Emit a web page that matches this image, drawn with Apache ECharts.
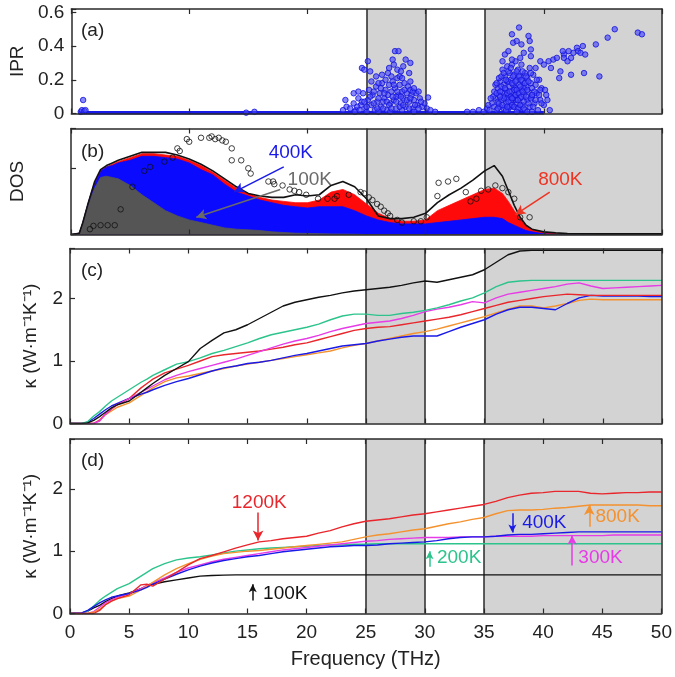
<!DOCTYPE html>
<html><head><meta charset="utf-8">
<script src="https://cdn.jsdelivr.net/npm/echarts@6/dist/echarts.min.js"></script>
<style>html,body{margin:0;padding:0;background:#fff}#c{width:675px;height:677px}</style>
</head><body><div id="c"></div>
<script>
const FONT = "'Liberation Sans', Arial, Helvetica, sans-serif";

// ---------- Panel (a): IPR ----------
const iprBaseX = [0.6, 40];
const iprBaseY = [0.004, 0.004];
const iprPoints = [
 [0.8,0.01],[0.9,0.02],[1.0,0.08],[1.1,0.015],[1.2,0.02],[14.8,0.005],[15.5,0.01],
 [23.0,0.02],[23.3,0.04],[23.6,0.03],[23.9,0.06],[24.1,0.02],[24.3,0.09],[24.5,0.05],[24.7,0.12],[24.9,0.03],
 [25.1,0.08],[25.2,0.14],[25.4,0.05],[25.5,0.11],[25.7,0.02],[25.8,0.16],[25.9,0.07],[26.1,0.12],[26.2,0.04],
 [26.3,0.18],[26.5,0.09],[26.6,0.14],[26.7,0.02],[26.8,0.11],[26.9,0.17],[27.0,0.06],[27.1,0.13],[27.2,0.19],
 [27.3,0.08],[27.4,0.15],[27.5,0.03],[27.6,0.21],[27.7,0.11],[27.8,0.17],[27.9,0.06],[28.0,0.13],[28.1,0.09],
 [28.2,0.18],[28.3,0.04],[28.4,0.12],[28.5,0.16],[28.6,0.07],[28.8,0.11],[28.9,0.03],[29.0,0.08],[29.2,0.12],
 [29.3,0.05],[29.5,0.09],[29.7,0.04],[29.9,0.06],[30.1,0.03],[30.4,0.02],[30.8,0.01],[24.0,0.01],[25.0,0.01],
 [26.0,0.01],[27.0,0.01],[28.0,0.02],[29.0,0.01],[25.6,0.06],[26.4,0.07],[27.5,0.10],[28.7,0.14],[24.6,0.07],
 [24.2,0.04],[24.4,0.02],[24.8,0.07],[25.0,0.04],[25.3,0.10],[25.6,0.13],[25.9,0.03],[26.0,0.09],[26.2,0.15],
 [26.4,0.03],[26.5,0.12],[26.7,0.07],[26.9,0.05],[27.1,0.03],[27.2,0.10],[27.3,0.17],[27.5,0.07],[27.6,0.13],
 [27.8,0.04],[27.9,0.10],[28.1,0.05],[28.2,0.14],[28.4,0.08],[28.6,0.03],[28.7,0.09],[28.9,0.13],[29.1,0.05],
 [29.4,0.03],[29.6,0.07],[25.8,0.22],[26.9,0.27],[27.8,0.22],[25.4,0.19],
 [27.4,0.37],[27.7,0.37],[28.3,0.32],[28.7,0.30],[25.1,0.31],[24.6,0.27],[24.8,0.26],[27.3,0.29],[27.6,0.26],
 [27.9,0.25],[26.8,0.24],[28.6,0.24],[25.3,0.25],[27.1,0.22],[28.0,0.21],[28.7,0.19],[26.6,0.20],[26.0,0.18],
 [29.0,0.15],[29.4,0.13],[30.2,0.095],[24.3,0.13],[23.9,0.12],[23.2,0.08],[27.2,0.32],[28.1,0.28],[26.3,0.23],
 [33.5,0.01],[34.0,0.01],[34.5,0.02],[34.9,0.01],[35.2,0.03],[35.4,0.02],[35.6,0.06],[35.8,0.13],[35.8,0.04],
 [35.9,0.09],[36.0,0.02],[36.1,0.07],[36.1,0.15],[36.2,0.11],[36.3,0.04],[36.3,0.19],[36.4,0.08],[36.5,0.13],
 [36.5,0.26],[36.6,0.03],[36.6,0.17],[36.7,0.10],[36.7,0.22],[36.8,0.06],[36.8,0.14],[36.9,0.19],[36.9,0.28],
 [37.0,0.03],[37.0,0.11],[37.1,0.16],[37.1,0.24],[37.2,0.07],[37.2,0.20],[37.3,0.13],[37.3,0.29],[37.4,0.04],
 [37.4,0.17],[37.5,0.10],[37.5,0.23],[37.6,0.15],[37.6,0.31],[37.7,0.06],[37.7,0.20],[37.8,0.12],[37.8,0.26],
 [37.9,0.03],[37.9,0.17],[38.0,0.09],[38.0,0.22],[38.1,0.14],[38.1,0.29],[38.2,0.05],[38.2,0.19],[38.3,0.11],
 [38.4,0.24],[38.4,0.02],[38.5,0.16],[38.6,0.08],[38.6,0.21],[38.7,0.13],[38.8,0.27],[38.8,0.04],[38.9,0.18],
 [39.0,0.10],[39.1,0.23],[39.2,0.06],[39.3,0.17],[39.4,0.12],[39.5,0.02],[39.6,0.20],[39.7,0.08],[39.8,0.15],
 [40.0,0.05],[40.2,0.11],[40.5,0.02],[36.2,0.21],[36.9,0.09],[37.6,0.08],[38.3,0.15],[37.0,0.19],[36.4,0.16],
 [35.7,0.10],[35.9,0.17],[36.0,0.12],[36.1,0.03],[36.2,0.06],[36.3,0.13],[36.4,0.22],[36.5,0.05],[36.6,0.09],
 [36.6,0.24],[36.7,0.15],[36.8,0.02],[36.8,0.20],[36.9,0.12],[37.0,0.07],[37.0,0.25],[37.1,0.04],[37.1,0.13],
 [37.2,0.10],[37.2,0.27],[37.3,0.05],[37.3,0.18],[37.4,0.09],[37.4,0.22],[37.5,0.14],[37.5,0.04],[37.6,0.11],
 [37.6,0.19],[37.7,0.25],[37.7,0.14],[37.8,0.08],[37.8,0.03],[37.9,0.12],[37.9,0.22],[38.0,0.05],[38.0,0.16],
 [38.1,0.10],[38.1,0.20],[38.2,0.13],[38.2,0.25],[38.3,0.07],[38.3,0.03],[38.4,0.18],[38.5,0.10],[38.5,0.22],
 [38.6,0.14],[38.7,0.06],[38.7,0.19],[38.9,0.09],[38.9,0.24],[39.0,0.15],[39.1,0.04],[39.2,0.13],[39.3,0.08],
 [39.4,0.20],[39.6,0.11],[39.8,0.06],[40.3,0.08],[36.0,0.18],[36.3,0.10],[36.9,0.04],[37.3,0.09],[37.7,0.01],
 [38.6,0.01],[39.0,0.01],[35.3,0.05],[35.5,0.09],
 [37.9,0.51],[37.3,0.47],[38.7,0.46],[37.4,0.42],[37.7,0.43],[38.1,0.41],[38.8,0.43],[38.9,0.38],[36.7,0.35],
 [37.0,0.37],[38.3,0.36],[38.0,0.33],[38.9,0.34],[36.5,0.31],[37.3,0.32],[39.7,0.31],[40.0,0.29],[40.4,0.31],
 [40.8,0.32],[41.1,0.33],[41.7,0.35],[41.3,0.21],[39.7,0.14],[40.1,0.14],[39.3,0.27],[39.0,0.11],[40.6,0.27],
 [46.0,0.50],[47.95,0.48],[48.3,0.47],[45.4,0.45],[44.4,0.41],[43.3,0.40],[42.8,0.39],[42.9,0.37],[43.1,0.36],
 [43.5,0.35],[42.5,0.36],[42.1,0.37],[41.6,0.37],[41.7,0.33],[42.3,0.33],[42.0,0.31],[41.4,0.25],[42.3,0.23],
 [43.4,0.24],[44.7,0.22]
];

// ---------- Panel (b): DOS ----------
const dosX = [0,0.7,1,1.4,1.7,2,2.5,3,3.5,4, 5,6,7,8,9,10,11,12,13,14, 15,16,17,18,19,20,21,22,23,24,
              25,26,27,28,29,30,31,32,33,34, 35,35.8,36.5,37,37.5,38,38.5,39, 40,41,42,45,50];
const dos100K = [0,0.01,0.08,0.20,0.28,0.35,0.43,0.44,0.43,0.42, 0.37,0.30,0.24,0.18,0.14,0.11,0.09,0.07,0.05,0.04,
                 0.035,0.03,0.02,0.015,0.01,0.008,0.006,0.004,0.003,0.002, 0,0,0,0,0,0,0,0,0,0, 0,0,0,0,0,0,0,0, 0,0,0,0,0];
const dos400K = [0,0.01,0.09,0.22,0.31,0.39,0.48,0.51,0.52,0.54, 0.56,0.59,0.59,0.58,0.57,0.54,0.49,0.45,0.38,0.32,
                 0.29,0.26,0.24,0.22,0.21,0.20,0.21,0.21,0.21,0.18, 0.14,0.11,0.09,0.08,0.08,0.08,0.09,0.10,0.11,0.12,
                 0.13,0.13,0.12,0.09,0.07,0.05,0.03,0.02, 0.005,0,0,0,0];
const dos800K = [0,0.01,0.09,0.22,0.31,0.39,0.48,0.51,0.53,0.55, 0.58,0.61,0.61,0.60,0.59,0.56,0.52,0.47,0.41,0.35,
                 0.31,0.28,0.26,0.25,0.24,0.24,0.26,0.32,0.34,0.30, 0.23,0.16,0.12,0.10,0.10,0.11,0.18,0.22,0.26,0.30,
                 0.34,0.35,0.31,0.25,0.18,0.12,0.07,0.04, 0.015,0.005,0.002,0,0];
const dosLine = [0,0.01,0.09,0.22,0.31,0.40,0.49,0.52,0.54,0.56, 0.59,0.62,0.62,0.62,0.60,0.57,0.53,0.48,0.42,0.36,
                 0.31,0.29,0.28,0.28,0.30,0.29,0.30,0.37,0.40,0.36, 0.27,0.14,0.12,0.12,0.13,0.16,0.24,0.30,0.35,0.41,
                 0.48,0.52,0.44,0.33,0.22,0.13,0.07,0.04, 0.02,0.012,0.008,0.005,0.005];
const expX = [1.6,1.9,2.5,3.1,3.7,4.2,5.2,6.2,6.7,7.9,8.6,9.0,9.2,9.8,10.0,11.0,11.7,11.9,12.2,12.5,12.8,13.1,13.6,13.6,14.4,
              15.0,15.2,16.7,17.1,17.2,17.9,18.5,18.9,19.3,19.9,20.9,21.7,22.3,22.5,23.5,24.5,24.8,25.2,25.5,25.9,26.2,26.5,
              26.8,27.0,27.6,28.0,29.0,29.6,30.1,31.0,31.1,31.9,32.6,33.4,33.8,34.3,34.7,35.3,35.9,36.5,37.0,37.5,38.0,38.8];
const expY = [0.04,0.065,0.07,0.07,0.07,0.19,0.36,0.48,0.51,0.55,0.58,0.65,0.63,0.72,0.70,0.73,0.73,0.74,0.72,0.73,0.71,0.70,0.65,0.56,0.56,
              0.50,0.46,0.40,0.40,0.38,0.37,0.34,0.33,0.32,0.30,0.27,0.27,0.27,0.29,0.30,0.32,0.31,0.28,0.26,0.23,0.21,0.18,
              0.16,0.14,0.11,0.09,0.10,0.10,0.13,0.29,0.39,0.40,0.42,0.32,0.25,0.27,0.33,0.34,0.37,0.35,0.32,0.27,0.13,0.13];

// ---------- Panels (c) and (d): cumulative kappa ----------
const kx = [0,1,1.5,2,2.5,3,3.5,4, 5,6,6.5,7, 8,9,10,11,12,13,14,15,16,17, 18,19,20,21,22,23,24,25,26,27,
            28,29,30,31,32,33,34,35,36,37, 38,39,40,41,42,43,44,45,46,47, 48,49,50];
const cBlack = [0,0,0.01,0.05,0.11,0.18,0.25,0.30, 0.36,0.50,0.57,0.64, 0.77,0.88,0.99,1.20,1.33,1.45,1.50,1.58,1.68,1.78,
                1.88,1.94,1.98,2.02,2.05,2.09,2.12,2.14,2.16,2.18, 2.21,2.25,2.28,2.26,2.30,2.34,2.38,2.46,2.58,2.70,
                2.76,2.77,2.77,2.77,2.77,2.77,2.77,2.77,2.77,2.77, 2.77,2.77,2.77];
const cGreen = [0,0,0.03,0.12,0.19,0.28,0.36,0.42, 0.54,0.66,0.71,0.77, 0.86,0.95,0.99,1.05,1.12,1.17,1.23,1.29,1.36,1.42,
                1.46,1.50,1.54,1.59,1.66,1.72,1.75,1.75,1.73,1.73, 1.76,1.78,1.81,1.85,1.90,1.96,2.01,2.09,2.19,2.26,
                2.28,2.29,2.29,2.29,2.29,2.29,2.29,2.29,2.29,2.29, 2.29,2.29,2.29];
const cMagenta = [0,0,0,0,0.04,0.15,0.24,0.30, 0.40,0.50,0.55,0.60, 0.70,0.77,0.83,0.88,0.93,0.98,1.03,1.09,1.15,1.21,
                1.27,1.32,1.36,1.41,1.47,1.52,1.56,1.60,1.62,1.64, 1.68,1.73,1.79,1.83,1.86,1.90,1.95,1.93,2.01,2.07,
                2.10,2.13,2.16,2.19,2.23,2.25,2.20,2.16,2.17,2.18, 2.19,2.20,2.21];
const cRed = [0,0,0,0,0.05,0.15,0.23,0.30, 0.40,0.57,0.64,0.71, 0.81,0.87,0.93,1.00,1.07,1.10,1.12,1.14,1.16,1.19,
              1.22,1.26,1.29,1.34,1.39,1.44,1.49,1.52,1.54,1.55, 1.58,1.61,1.64,1.67,1.70,1.74,1.79,1.84,1.89,1.94,
              1.97,2.00,2.03,2.05,2.07,2.06,2.05,2.05,2.05,2.05, 2.05,2.05,2.05];
const cBlue = [0,0,0.02,0.08,0.15,0.22,0.28,0.32, 0.40,0.47,0.50,0.54, 0.61,0.67,0.72,0.78,0.84,0.89,0.92,0.96,0.98,1.01,
               1.05,1.09,1.12,1.16,1.20,1.24,1.26,1.28,1.32,1.35, 1.38,1.40,1.40,1.40,1.47,1.54,1.60,1.66,1.75,1.82,
               1.86,1.86,1.84,1.82,1.92,2.01,2.05,2.04,2.04,2.04, 2.04,2.03,2.03];
const cOrange = [0,0,0,0,0.06,0.14,0.20,0.26, 0.33,0.45,0.51,0.57, 0.67,0.73,0.76,0.80,0.84,0.88,0.92,0.95,0.98,1.01,
                 1.04,1.07,1.10,1.13,1.16,1.21,1.25,1.28,1.32,1.36, 1.40,1.44,1.47,1.51,1.56,1.61,1.66,1.71,1.77,1.83,
                 1.88,1.88,1.85,1.88,1.92,1.97,1.99,1.98,1.98,1.98, 1.98,1.98,1.98];

const d100K = [0,0.01,0.04,0.09,0.13,0.19,0.24,0.28, 0.33,0.40,0.44,0.47, 0.51,0.54,0.57,0.60,0.61,0.615,0.62,0.62,0.62,0.62,
               0.62,0.62,0.62,0.62,0.62,0.62,0.62,0.62,0.62,0.62, 0.62,0.62,0.62,0.62,0.62,0.62,0.62,0.62,0.62,0.62,
               0.62,0.62,0.62,0.62,0.62,0.62,0.62,0.62,0.62,0.62, 0.62,0.62,0.62];
const d200K = [0,0,0.04,0.12,0.21,0.28,0.34,0.40, 0.48,0.60,0.66,0.72, 0.80,0.86,0.89,0.91,0.94,0.97,1.00,1.02,1.04,1.05,
               1.06,1.07,1.08,1.09,1.10,1.10,1.11,1.11,1.12,1.12, 1.12,1.12,1.12,1.12,1.12,1.12,1.12,1.12,1.12,1.12,
               1.12,1.12,1.12,1.12,1.12,1.12,1.12,1.12,1.12,1.12, 1.12,1.12,1.12];
const d300K = [0,0,0,0.03,0.10,0.17,0.22,0.26, 0.32,0.40,0.45,0.49, 0.57,0.66,0.73,0.78,0.83,0.87,0.90,0.93,0.96,0.99,
               1.02,1.04,1.06,1.08,1.10,1.12,1.14,1.16,1.17,1.19, 1.20,1.21,1.22,1.22,1.22,1.23,1.23,1.23,1.24,1.24,
               1.24,1.24,1.25,1.25,1.25,1.25,1.25,1.25,1.26,1.26, 1.26,1.26,1.26];
const d400K = [0,0.01,0.05,0.11,0.17,0.22,0.26,0.28, 0.32,0.38,0.42,0.47, 0.55,0.63,0.70,0.76,0.81,0.85,0.88,0.91,0.93,0.96,
               0.99,1.01,1.03,1.05,1.07,1.08,1.09,1.09,1.10,1.12, 1.13,1.14,1.15,1.17,1.20,1.22,1.23,1.23,1.24,1.26,
               1.27,1.27,1.28,1.29,1.30,1.31,1.31,1.31,1.31,1.31, 1.31,1.31,1.31];
const d800K = [0,0,0,0.02,0.07,0.14,0.20,0.24, 0.28,0.38,0.44,0.50, 0.62,0.72,0.80,0.87,0.92,0.96,0.98,1.00,1.01,1.03,
               1.05,1.07,1.09,1.11,1.13,1.15,1.19,1.23,1.26,1.28, 1.31,1.34,1.36,1.40,1.44,1.47,1.51,1.54,1.60,1.65,
               1.66,1.66,1.67,1.69,1.70,1.72,1.74,1.74,1.74,1.74, 1.74,1.73,1.73];
const d1200K = [0,0,0,0,0.05,0.14,0.20,0.24, 0.30,0.46,0.47,0.44, 0.55,0.66,0.78,0.88,0.93,0.99,1.05,1.10,1.15,1.17,
                1.20,1.22,1.24,1.29,1.33,1.39,1.44,1.48,1.50,1.52, 1.55,1.58,1.60,1.63,1.66,1.69,1.72,1.75,1.80,1.86,
                1.90,1.93,1.94,1.96,1.96,1.96,1.93,1.92,1.93,1.94, 1.94,1.95,1.95];

// ---------- style ----------
const AX = '#2a2a2a';
const FS = 19;
const COL = {black:'#111111', green:'#2cc48c', magenta:'#e63be6', blue:'#1a1ae8', orange:'#f4922f', red:'#e8262c', gray:'#555555'};
const zip = (xs, ys) => xs.map((x, i) => [x, ys[i]]);

function xAx(i, top, interval, showLabel) {
  return {type:'value', gridIndex:i, min:0, max:50, interval, position: top ? 'top' : 'bottom', z:10,
    axisLine:{show:true, onZero:false, lineStyle:{color:AX, width:1.5}},
    axisTick:{show:true, inside:true, length:5, lineStyle:{color:AX, width:1.2}},
    axisLabel:{show:showLabel, fontSize:FS, color:'#222', fontFamily:FONT, margin:10},
    splitLine:{show:false},
    name: showLabel ? 'Frequency (THz)' : '', nameLocation:'middle', nameGap:36,
    nameTextStyle:{fontSize:20, color:'#222', fontFamily:FONT}};
}
function yAx(i, max, interval, fmt, name, gap) {
  return {type:'value', gridIndex:i, min:0, max, interval, z:10,
    axisLine:{show:true, onZero:false, lineStyle:{color:AX, width:1.5}},
    axisTick:{show:true, inside:true, length:5, lineStyle:{color:AX, width:1.2}},
    axisLabel:{show:true, fontSize:FS, color:'#222', fontFamily:FONT, margin:7, formatter:fmt},
    splitLine:{show:false},
    name, nameLocation:'middle', nameGap:gap, nameRotate:90,
    nameTextStyle:{fontSize:FS, color:'#222', fontFamily:FONT}};
}
function yRight(i, max) {
  return {type:'value', gridIndex:i, min:0, max, position:'right', z:10,
    axisLine:{show:true, onZero:false, lineStyle:{color:AX, width:1.5}},
    axisTick:{show:false}, axisLabel:{show:false}, splitLine:{show:false}};
}
const fmtA = v => { const k = Math.round(v * 5); return (Math.abs(v * 5 - k) < 1e-6 && k <= 3) ? (k === 0 ? '0' : (k / 5).toFixed(1)) : ''; };
const fmtK = v => (Math.abs(v - Math.round(v)) < 1e-6) ? String(Math.round(v)) : '';
const fmtNone = () => '';

function bgSeries(i) {
  return {type:'line', xAxisIndex:i, yAxisIndex:i, data:[[0,0]], symbol:'none', lineStyle:{opacity:0}, z:1, silent:true,
    markArea:{silent:true, z:1, itemStyle:{color:'#d3d3d3'}, data:[[{xAxis:25},{xAxis:30}],[{xAxis:35},{xAxis:50}]]},
    markLine:{silent:true, z:1.5, symbol:'none', label:{show:false}, lineStyle:{color:AX, width:1.5, type:'solid'},
      data:[{xAxis:25},{xAxis:30},{xAxis:35}]}};
}
function kLine(i, ys, color, extra) {
  return Object.assign({type:'line', xAxisIndex:i, yAxisIndex:i, data:zip(kx, ys), symbol:'none', showSymbol:false,
    lineStyle:{color, width:1.4}, itemStyle:{color}, z:3}, extra || {});
}
function notes(items, color, size) {
  return {symbol:'circle', symbolSize:1, z:6, itemStyle:{color:'rgba(0,0,0,0)'},
    label:{show:true, position:'inside', formatter:'{b}', color, fontSize:size || FS, fontFamily:FONT},
    data: items.map(t => ({name:t[0], coord:[t[1], t[2]]}))};
}
function arrows(pairs, color, head) {
  return {silent:true, z:6, symbol:['none','arrow'], symbolSize: head || [8,10], label:{show:false},
    lineStyle:{color, width:1.5, type:'solid'},
    data: pairs.map(p => [{coord:p[0]}, {coord:p[1]}])};
}

const option = {
  animation:false,
  backgroundColor:'#ffffff',
  textStyle:{fontFamily:FONT},
  grid:[
    {left:70, right:13, top:9, height:104.5, show:true, backgroundColor:'#fff', borderWidth:0},
    {left:70, right:13, top:128.5, height:106, show:true, backgroundColor:'#fff', borderWidth:0},
    {left:70, right:13, top:248.5, height:175, show:true, backgroundColor:'#fff', borderWidth:0},
    {left:70, right:13, top:439, height:174.5, show:true, backgroundColor:'#fff', borderWidth:0}
  ],
  xAxis:[
    xAx(0,false,10,false), xAx(1,false,10,false), xAx(2,false,5,false), xAx(3,false,5,true),
    xAx(0,true,10,false), xAx(1,true,10,false), xAx(2,true,5,false), xAx(3,true,5,false)
  ],
  yAxis:[
    yAx(0,0.62,0.2,fmtA,'IPR',44), yAx(1,0.8,0.5,fmtNone,'DOS',44),
    yAx(2,2.8,1,fmtK,'κ (W·m⁻¹K⁻¹)',30), yAx(3,2.8,1,fmtK,'κ (W·m⁻¹K⁻¹)',30),
    yRight(0,0.62), yRight(1,0.8), yRight(2,2.8), yRight(3,2.8)
  ],
  graphic:[
    {type:'text', left:81, top:21, z:20, style:{text:'(a)', fontSize:FS, fontFamily:FONT, fill:'#222'}},
    {type:'text', left:81, top:142, z:20, style:{text:'(b)', fontSize:FS, fontFamily:FONT, fill:'#222'}},
    {type:'text', left:81, top:261, z:20, style:{text:'(c)', fontSize:FS, fontFamily:FONT, fill:'#222'}},
    {type:'text', left:81, top:451, z:20, style:{text:'(d)', fontSize:FS, fontFamily:FONT, fill:'#222'}}
  ],
  series:[
    bgSeries(0), bgSeries(1), bgSeries(2), bgSeries(3),
    // (a)
    {type:'line', xAxisIndex:0, yAxisIndex:0, data:zip(iprBaseX, iprBaseY), symbol:'none', lineStyle:{color:'#1a1ae8', width:3.5}, z:3},
    {type:'scatter', xAxisIndex:0, yAxisIndex:0, data:iprPoints, symbolSize:5.5, z:4,
      itemStyle:{color:'rgba(70,70,250,0.8)', borderColor:'#1212dd', borderWidth:1}},
    // (b)
    {type:'line', xAxisIndex:1, yAxisIndex:1, data:zip(dosX, dos800K), symbol:'none', z:3,
      lineStyle:{color:'#ff0a0a', width:0.8}, areaStyle:{color:'#ff0a0a', opacity:1},
      markPoint:notes([['800K',41.4,0.415]], '#ee3322'), markLine:arrows([[[40.5,0.32],[37.6,0.15]]], '#ee3322')},
    {type:'line', xAxisIndex:1, yAxisIndex:1, data:zip(dosX, dos400K), symbol:'none', z:3,
      lineStyle:{color:'#0a0aff', width:0.8}, areaStyle:{color:'#0a0aff', opacity:1},
      markPoint:notes([['400K',18.6,0.62]], '#1a1ae8'), markLine:arrows([[[18.0,0.51],[13.8,0.32]]], '#1a1ae8')},
    {type:'line', xAxisIndex:1, yAxisIndex:1, data:zip(dosX, dos100K), symbol:'none', z:3,
      lineStyle:{color:'#555', width:0.8}, areaStyle:{color:'#555555', opacity:1},
      markPoint:notes([['100K',20.2,0.415]], '#6a6a6a'), markLine:arrows([[[17.7,0.34],[10.6,0.13]]], '#6a6a6a')},
    {type:'line', xAxisIndex:1, yAxisIndex:1, data:zip(dosX, dosLine), symbol:'none', z:4,
      lineStyle:{color:'#111', width:1.6}},
    {type:'scatter', xAxisIndex:1, yAxisIndex:1, data:zip(expX, expY), symbol:'circle', symbolSize:5.5, z:5,
      itemStyle:{color:'rgba(0,0,0,0)', borderColor:'#111', borderWidth:1}},
    // (c)
    kLine(2, cOrange, COL.orange), kLine(2, cBlue, COL.blue), kLine(2, cRed, COL.red),
    kLine(2, cMagenta, COL.magenta), kLine(2, cGreen, COL.green), kLine(2, cBlack, COL.black),
    // (d)
    kLine(3, d100K, COL.black, {markPoint:notes([['100K',18.2,0.32]], '#111'),
      markLine:arrows([[[15.45,0.21],[15.45,0.47]]], '#111', [6,8])}),
    kLine(3, d200K, COL.green, {markPoint:notes([['200K',32.9,0.89]], COL.green),
      markLine:arrows([[[30.4,0.75],[30.4,1.0]]], COL.green, [6,8])}),
    kLine(3, d300K, COL.magenta, {markPoint:notes([['300K',44.85,0.90]], COL.magenta),
      markLine:arrows([[[42.45,0.77],[42.45,1.25]]], COL.magenta, [7,9])}),
    kLine(3, d800K, COL.orange, {markPoint:notes([['800K',46.3,1.56]], COL.orange),
      markLine:arrows([[[43.9,1.39],[43.9,1.74]]], COL.orange, [8,10])}),
    kLine(3, d400K, COL.blue, {markPoint:notes([['400K',40.1,1.46]], COL.blue),
      markLine:arrows([[[37.4,1.61],[37.4,1.30]]], COL.blue, [6,8])}),
    kLine(3, d1200K, COL.red, {markPoint:notes([['1200K',16.0,1.77]], COL.red),
      markLine:arrows([[[15.9,1.62],[15.9,1.17]]], COL.red)})
  ]
};
const chart = echarts.init(document.getElementById('c'), null, {renderer:'canvas'});
chart.setOption(option);
</script>
</body></html>
